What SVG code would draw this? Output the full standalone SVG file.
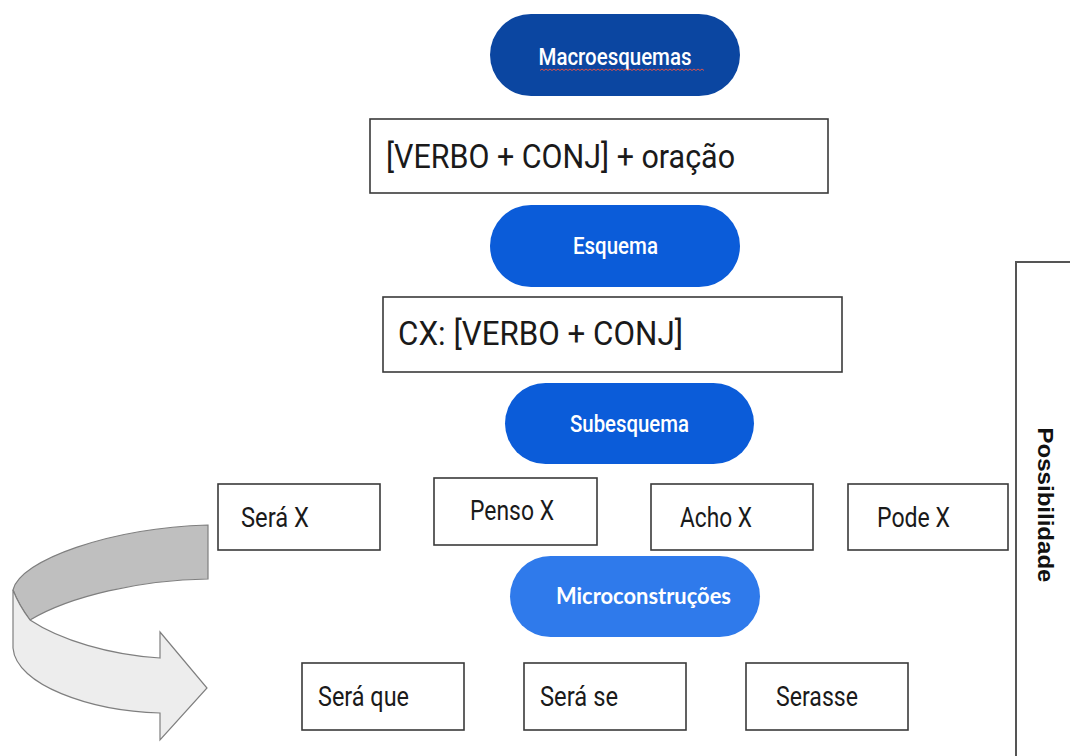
<svg xmlns="http://www.w3.org/2000/svg" width="1070" height="756" viewBox="0 0 1070 756">
<style>
.pill-text{font-family:Roboto,"Liberation Sans",sans-serif;font-weight:500;fill:#fff;text-anchor:middle}
.box{fill:#fff;stroke:#3a3a3a;stroke-width:1.6}
.btext{font-family:Roboto,"Liberation Sans",sans-serif;fill:#1a1a1a}
.big{font-size:33px}
.small{font-size:27px}
</style>
<rect width="1070" height="756" fill="#fff"/>
<g id="connectors">
  <path d="M208,525 C110,528 20,560 13,590 C18,603 24,612 30,620 C70,596 140,580 208,579 Z" fill="#bfbfbf" stroke="#7f7f7f" stroke-width="1.2"/>
  <path d="M13,590 L13,648 C16,685 90,711 160,713 L160,740 L207,688 L160,632 L160,658 C110,655 60,640 30,620 C24,612 18,603 13,590 Z" fill="#ededed" stroke="#7f7f7f" stroke-width="1.2"/>
</g>
<g id="macroesquemas">
  <rect x="490" y="14" width="250" height="82" rx="41" fill="#0b46a1"/>
  <text class="pill-text" x="615" y="65" font-size="24" textLength="153" lengthAdjust="spacingAndGlyphs">Macroesquemas</text>
  <path d="M540,70.5 l2,-1.5 l2,1.5 l2,-1.5 l2,1.5 l2,-1.5 l2,1.5 l2,-1.5 l2,1.5 l2,-1.5 l2,1.5 l2,-1.5 l2,1.5 l2,-1.5 l2,1.5 l2,-1.5 l2,1.5 l2,-1.5 l2,1.5 l2,-1.5 l2,1.5 l2,-1.5 l2,1.5 l2,-1.5 l2,1.5 l2,-1.5 l2,1.5 l2,-1.5 l2,1.5 l2,-1.5 l2,1.5 l2,-1.5 l2,1.5 l2,-1.5 l2,1.5 l2,-1.5 l2,1.5 l2,-1.5 l2,1.5 l2,-1.5 l2,1.5 l2,-1.5 l2,1.5 l2,-1.5 l2,1.5 l2,-1.5 l2,1.5 l2,-1.5 l2,1.5 l2,-1.5 l2,1.5 l2,-1.5 l2,1.5 l2,-1.5 l2,1.5 l2,-1.5 l2,1.5 l2,-1.5 l2,1.5 l2,-1.5 l2,1.5 l2,-1.5 l2,1.5 l2,-1.5 l2,1.5 l2,-1.5 l2,1.5 l2,-1.5 l2,1.5 l2,-1.5 l2,1.5 l2,-1.5 l2,1.5 l2,-1.5 l2,1.5 l2,-1.5 l2,1.5 l2,-1.5 l2,1.5 l2,-1.5 l2,1.5 l2,-1.5 l2,1.5" fill="none" stroke="#d9534f" stroke-width="1"/>
</g>
<g id="formula">
  <rect class="box" x="370" y="119" width="458" height="74"/>
  <text class="btext big" x="386" y="168" textLength="349" lengthAdjust="spacingAndGlyphs">[VERBO + CONJ] + oração</text>
</g>
<g id="esquema">
  <rect x="490" y="205" width="250" height="82" rx="41" fill="#0b5cd9"/>
  <text class="pill-text" x="615.5" y="254" font-size="23" textLength="85" lengthAdjust="spacingAndGlyphs">Esquema</text>
</g>
<g id="cx">
  <rect class="box" x="383" y="297" width="459" height="75"/>
  <text class="btext big" x="398" y="345" textLength="285" lengthAdjust="spacingAndGlyphs">CX: [VERBO + CONJ]</text>
</g>
<g id="subesquema">
  <rect x="505" y="383" width="249" height="81" rx="40.5" fill="#0b5cd9"/>
  <text class="pill-text" x="629.5" y="432" font-size="23" textLength="119" lengthAdjust="spacingAndGlyphs">Subesquema</text>
</g>
<g id="sera-x">
  <rect class="box" x="218" y="484" width="162" height="66"/>
  <text class="btext small" x="241" y="527" textLength="68" lengthAdjust="spacingAndGlyphs">Será X</text>
</g>
<g id="penso-x">
  <rect class="box" x="434" y="478" width="163" height="67"/>
  <text class="btext small" x="470" y="520" textLength="84" lengthAdjust="spacingAndGlyphs">Penso X</text>
</g>
<g id="acho-x">
  <rect class="box" x="651" y="484" width="162" height="66"/>
  <text class="btext small" x="680" y="527" textLength="72" lengthAdjust="spacingAndGlyphs">Acho X</text>
</g>
<g id="pode-x">
  <rect class="box" x="848" y="484" width="160" height="66"/>
  <text class="btext small" x="877" y="527" textLength="73" lengthAdjust="spacingAndGlyphs">Pode X</text>
</g>
<g id="microconstrucoes">
  <rect x="510" y="556" width="250" height="81" rx="40.5" fill="#2f7aeb"/>
  <text x="643.5" y="604" font-family="Lato,'Open Sans','Liberation Sans',sans-serif" font-weight="700" font-size="22" fill="#fff" text-anchor="middle" textLength="175" lengthAdjust="spacingAndGlyphs">Microconstruções</text>
</g>
<g id="sera-que">
  <rect class="box" x="302" y="663" width="162" height="67"/>
  <text class="btext small" x="318" y="706" textLength="91" lengthAdjust="spacingAndGlyphs">Será que</text>
</g>
<g id="sera-se">
  <rect class="box" x="524" y="663" width="162" height="67"/>
  <text class="btext small" x="540" y="706" textLength="78" lengthAdjust="spacingAndGlyphs">Será se</text>
</g>
<g id="serasse">
  <rect class="box" x="746" y="663" width="162" height="67"/>
  <text class="btext small" x="776" y="706" textLength="82" lengthAdjust="spacingAndGlyphs">Serasse</text>
</g>
<g id="possibilidade">
  <path d="M1016,760 L1016,262 L1072,262" fill="none" stroke="#555" stroke-width="2"/>
  <text transform="translate(1038,505) rotate(90)" font-family="'Liberation Sans',Arial,sans-serif" font-weight="700" font-size="22" fill="#111" text-anchor="middle" textLength="155" lengthAdjust="spacingAndGlyphs">Possibilidade</text>
</g>
</svg>
